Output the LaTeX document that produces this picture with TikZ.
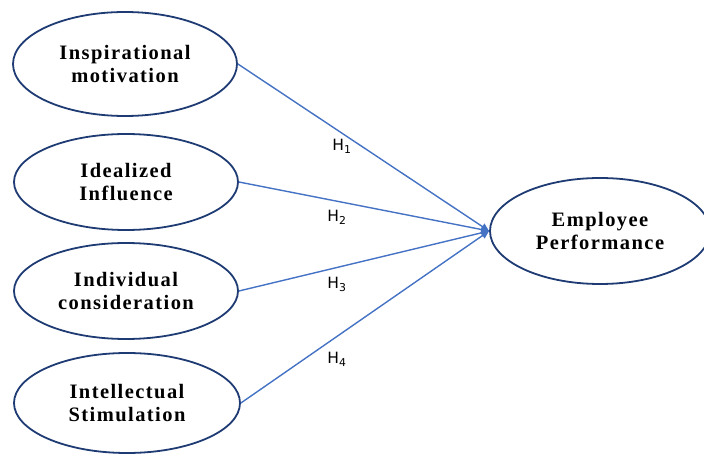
\documentclass[tikz,border=0pt]{standalone}
\usepackage{fontspec}
\setmainfont{Liberation Serif}
\newfontfamily\labfont{DejaVu Sans}
\newfontfamily\ellfont{Liberation Serif}[LetterSpace=7]
\usetikzlibrary{shapes.geometric,arrows.meta}
\definecolor{navy}{HTML}{1F3B73}
\definecolor{linkblue}{HTML}{4472C4}
\tikzset{
  ell/.style={ellipse, draw=navy, line width=1.8pt, fill=white, inner sep=0pt,
    align=center, font=\ellfont\bfseries\fontsize{20.5}{23.5}\selectfont},
  link/.style={draw=linkblue, line width=1.4pt, -{Triangle[length=8pt,width=7pt]}},
  hlab/.style={font=\labfont\fontsize{15.5}{17}\selectfont, inner sep=0pt},
}
\begin{document}
\begin{tikzpicture}[x=1pt,y=-1pt]
\useasboundingbox (0,0) rectangle (704,454);
\node[ell, minimum width=224pt, minimum height=104pt] (a) at (125,64) {Inspirational\\motivation};
\node[ell, minimum width=224pt, minimum height=96pt] (b) at (126,182) {Idealized\\Influence};
\node[ell, minimum width=224pt, minimum height=96pt] (c) at (126,291) {Individual\\consideration};
\node[ell, minimum width=226pt, minimum height=100pt] (d) at (127,403) {Intellectual\\Stimulation};
\node[ell, minimum width=220pt, minimum height=106pt] (e) at (600,231) {Employee\\Performance};
\draw[link] (a.east) -- (e.west);
\draw[link] (b.east) -- (e.west);
\draw[link] (c.east) -- (e.west);
\draw[link] (d.east) -- (e.west);
\node[hlab] (h1) at (342,146) {H\textsubscript{1}};
\node[hlab] (h2) at (337,217) {H\textsubscript{2}};
\node[hlab] (h3) at (337,284) {H\textsubscript{3}};
\node[hlab] (h4) at (337,359) {H\textsubscript{4}};
\end{tikzpicture}
\end{document}
